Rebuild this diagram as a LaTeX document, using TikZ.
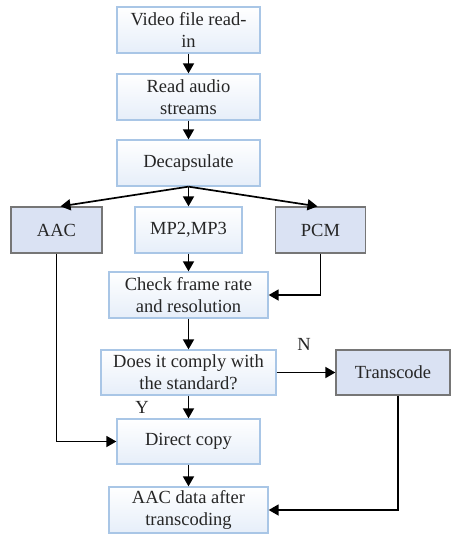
\documentclass[tikz,border=0pt]{standalone}
\usepackage{fontspec}
\setmainfont{Liberation Serif}
\usetikzlibrary{arrows.meta}
\definecolor{lightedge}{HTML}{A9C6E6}
\definecolor{lightfill}{HTML}{E6EEF9}
\definecolor{darkfill}{HTML}{DAE2F3}
\definecolor{darkedge}{HTML}{767676}
\definecolor{txt}{HTML}{262626}
\begin{document}
\begin{tikzpicture}[x=1pt,y=-1pt,
  lightbox/.style={draw=lightedge,line width=1.3pt,top color=white,bottom color=lightfill,
    minimum height=46pt,align=center,inner sep=0pt,text=txt,
    font=\rmfamily\fontsize{18.5}{22}\selectfont},
  darkbox/.style={draw=darkedge,line width=1.3pt,fill=darkfill,
    minimum height=46pt,align=center,inner sep=0pt,text=txt,
    font=\rmfamily\fontsize{18.5}{22}\selectfont},
  arr/.style={line width=1.7pt,-{Triangle[length=10pt,width=11pt]}},
  lbl/.style={text=txt,font=\rmfamily\fontsize{18.5}{22}\selectfont,inner sep=0pt}]
\useasboundingbox (0,0) rectangle (452,536);
\node[lightbox,minimum width=143pt] (read) at (188.5,30) {Video file read-\\in};
\node[lightbox,minimum width=143pt] (audio) at (188.5,97) {Read audio\\streams};
\node[lightbox,minimum width=143pt] (decap) at (188.5,163) {Decapsulate};
\node[darkbox,minimum width=91pt] (aac) at (56.5,230) {AAC};
\node[lightbox,minimum width=107pt] (mp) at (188.5,230) {MP2,MP3};
\node[darkbox,minimum width=90pt] (pcm) at (320.5,230) {PCM};
\node[lightbox,minimum width=159pt] (check) at (188.5,295) {Check frame rate\\and resolution};
\node[lightbox,minimum width=175pt,minimum height=45pt] (does) at (188.5,372.5) {Does it comply with\\the standard?};
\node[darkbox,minimum width=114pt,minimum height=45pt] (trans) at (393,372.5) {Transcode};
\node[lightbox,minimum width=143pt,minimum height=45pt] (direct) at (188.5,441.5) {Direct copy};
\node[lightbox,minimum width=159pt] (aacd) at (188.5,510) {AAC data after\\transcoding};
\node[lbl] (n) at (304,344) {N};
\node[lbl] (y) at (142,407) {Y};
\draw[arr] (read) -- (audio);
\draw[arr] (audio) -- (decap);
\draw[arr] (decap.south) -- ([xshift=4pt]aac.north);
\draw[arr] (decap.south) -- (mp.north);
\draw[arr] (decap.south) -- ([xshift=-3pt]pcm.north);
\draw[arr] (mp) -- (check);
\draw[arr] (pcm.south) |- (check.east);
\draw[arr] (check) -- (does);
\draw[arr] (does) -- (trans);
\draw[arr] (does) -- (direct);
\draw[arr] (aac.south) |- (direct.west);
\draw[arr] (direct) -- (aacd);
\draw[arr] ([xshift=5pt]trans.south) |- (aacd.east);
\end{tikzpicture}
\end{document}
